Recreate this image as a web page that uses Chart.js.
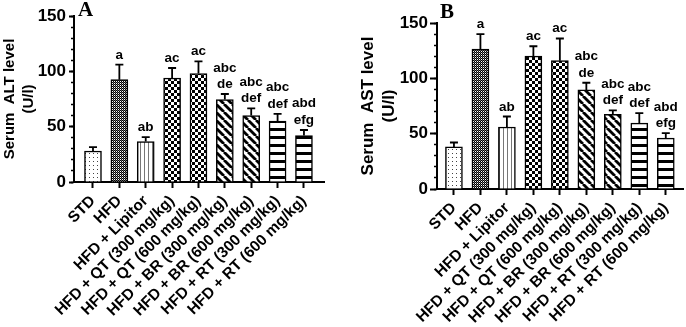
<!DOCTYPE html>
<html>
<head>
<meta charset="utf-8">
<script src="https://cdn.jsdelivr.net/npm/chart.js@4/dist/chart.umd.min.js"></script>
<style>
  html, body { margin: 0; padding: 0; background: #fff; }
  #wrap { position: relative; width: 686px; height: 327px; overflow: hidden; }
  .box { position: absolute; top: 0; width: 343px; height: 327px; }
  .tag { position: absolute; font: bold 21px "Liberation Serif", serif; color: #000; }
</style>
</head>
<body>
<div id="wrap">
  <div class="box" style="left:0"><canvas id="chartA"></canvas></div>
  <div class="box" style="left:343px"><canvas id="chartB"></canvas></div>
  <div class="tag" style="left:78px;top:-3px">A</div>
  <div class="tag" style="left:440px;top:-1px">B</div>
</div>
<script>
const groups = ['STD', 'HFD', 'HFD + Lipitor', 'HFD + QT (300 mg/kg)', 'HFD + QT (600 mg/kg)',
  'HFD + BR (300 mg/kg)', 'HFD + BR (600 mg/kg)', 'HFD + RT (300 mg/kg)', 'HFD + RT (600 mg/kg)'];

// Serum ALT (U/l), mean and upper SD
const altMean = [28, 92.5, 36.5, 94, 98, 74.5, 60, 55, 42];
const altSD = [3.5, 13.5, 4, 9, 11, 5, 6.5, 6.5, 5];

// Serum AST (U/l), mean and upper SD
const astMean = [38, 126.5, 56, 120, 116, 89.5, 67.5, 59.5, 46];
const astSD = [4, 13.5, 9.5, 9, 20, 6.5, 3.5, 9, 4.5];

// significance letters above each bar
const sigLetters = [null, 'a', 'ab', 'ac', 'ac', ['abc', 'de'], ['abc', 'def'], ['abc', 'def'], ['abd', 'efg']];

const FONT = '"Liberation Sans", Arial, sans-serif';

function tile(w, h, draw) {
  const c = document.createElement('canvas');
  c.width = w; c.height = h;
  const g = c.getContext('2d');
  g.fillStyle = '#fff';
  g.fillRect(0, 0, w, h);
  draw(g);
  return g.createPattern(c, 'repeat');
}

const dots = tile(4, 4, g => { g.fillStyle = '#444'; g.fillRect(1, 1, 1, 1); });
const fine = tile(2, 2, g => {
  g.fillStyle = '#000'; g.fillRect(0, 0, 1, 1); g.fillRect(1, 1, 1, 1);
  g.fillStyle = '#666'; g.fillRect(1, 0, 1, 1);
});
const vlines = tile(4, 1, g => { g.fillStyle = '#777'; g.fillRect(0, 0, 1, 1); });
const checker = tile(6, 6, g => { g.fillStyle = '#000'; g.fillRect(0, 0, 3, 3); g.fillRect(3, 3, 3, 3); });
const diag = tile(8, 8, g => {
  g.strokeStyle = '#000'; g.lineWidth = 2.8;
  [-8, 0, 8].forEach(k => { g.beginPath(); g.moveTo(k, 0); g.lineTo(k + 8, 8); g.stroke(); });
});
const hstripes = tile(1, 8, g => { g.fillStyle = '#000'; g.fillRect(0, 0, 1, 3); });

const fills = [dots, fine, vlines, checker, checker, diag, diag, hstripes, hstripes];

// error bars + letters
const errorBars = {
  id: 'errorBars',
  afterDatasetsDraw(chart) {
    const ctx = chart.ctx;
    const xs = chart.scales.x, ys = chart.scales.y;
    const means = chart.data.datasets[0].data.map(p => p.y);
    const sds = chart.options.plugins.errorBars.sd;
    ctx.save();
    ctx.strokeStyle = '#000';
    ctx.lineWidth = 1.8;
    means.forEach((m, i) => {
      const x = xs.getPixelForValue(i);
      const y0 = ys.getPixelForValue(m);
      const y1 = ys.getPixelForValue(m + sds[i]);
      ctx.beginPath();
      ctx.moveTo(x, y0); ctx.lineTo(x, y1);
      ctx.moveTo(x - 4, y1); ctx.lineTo(x + 4, y1);
      ctx.stroke();

      const lab = sigLetters[i];
      if (!lab) return;
      const lines = Array.isArray(lab) ? lab : [lab];
      ctx.fillStyle = '#000';
      ctx.font = 'bold 13.5px ' + FONT;
      ctx.textAlign = 'center';
      ctx.textBaseline = 'alphabetic';
      lines.slice().reverse().forEach((t, k) => {
        ctx.fillText(t, x, y1 - 6 - k * 16.5);
      });
    });
    ctx.restore();
  }
};

function makeChart(id, means, sds, cfg) {
  return new Chart(document.getElementById(id), {
    type: 'bar',
    data: {
      datasets: [{
        data: means.map((v, i) => ({ x: i, y: v })),
        backgroundColor: fills,
        borderColor: '#000',
        borderWidth: 1.5,
        barThickness: 17
      }]
    },
    plugins: [errorBars],
    options: {
      responsive: true,
      maintainAspectRatio: false,
      animation: false,
      layout: { padding: cfg.padding },
      plugins: {
        legend: { display: false },
        tooltip: { enabled: false },
        errorBars: { sd: sds }
      },
      scales: {
        x: {
          type: 'linear',
          min: cfg.xMin,
          max: cfg.xMax,
          offset: false,
          afterBuildTicks: s => { s.ticks = groups.map((g, i) => ({ value: i })); },
          afterFit: s => { s.height = cfg.xHeight; },
          ticks: {
            autoSkip: false,
            minRotation: 45,
            maxRotation: 45,
            padding: 4,
            color: '#000',
            font: { family: FONT, size: 15.5, weight: 'bold' },
            callback: v => groups[v]
          },
          grid: { drawOnChartArea: false, offset: false, tickLength: 6, tickWidth: 2, tickColor: '#000' },
          border: { color: '#000', width: 2 }
        },
        y: {
          min: 0,
          max: 150,
          weight: 1,
          afterFit: s => { s.width = cfg.yWidth; },
          ticks: {
            stepSize: 50,
            padding: cfg.tickPad,
            color: '#000',
            font: { family: FONT, size: 17, weight: 'bold' }
          },
          grid: { drawOnChartArea: false, tickLength: cfg.tickLen, tickWidth: 2, tickColor: '#000' },
          border: { color: '#000', width: 2 },
          title: {
            display: true,
            text: cfg.title,
            color: '#000',
            padding: { top: cfg.titlePad, bottom: 0 },
            font: { family: FONT, size: cfg.titleSize, weight: 'bold', lineHeight: cfg.titleLine }
          }
        },
        yMinor: {
          position: 'left',
          min: 0,
          max: 150,
          weight: 0,
          afterFit: s => { s.width = 0; },
          ticks: { display: false, stepSize: 10 },
          grid: { drawOnChartArea: false, tickLength: 3, tickWidth: 1.5, tickColor: '#000' },
          border: { display: false }
        }
      }
    }
  });
}

makeChart('chartA', altMean, altSD, {
  padding: { left: 0, top: 16, right: 19, bottom: 0 },
  xMin: -0.72, xMax: 8.76, xHeight: 145,
  yWidth: 74, tickLen: 5, tickPad: 3,
  title: ['Serum  ALT level', '(U/l)'], titleSize: 15, titleLine: '19px', titlePad: 0
});

makeChart('chartB', astMean, astSD, {
  padding: { left: 0, top: 23, right: 3, bottom: 0 },
  xMin: -0.64, xMax: 8.65, xHeight: 138,
  yWidth: 94, tickLen: 7, tickPad: 2,
  title: ['Serum  AST level', '(U/l)'], titleSize: 17, titleLine: '21px', titlePad: 15
});
</script>
</body>
</html>
